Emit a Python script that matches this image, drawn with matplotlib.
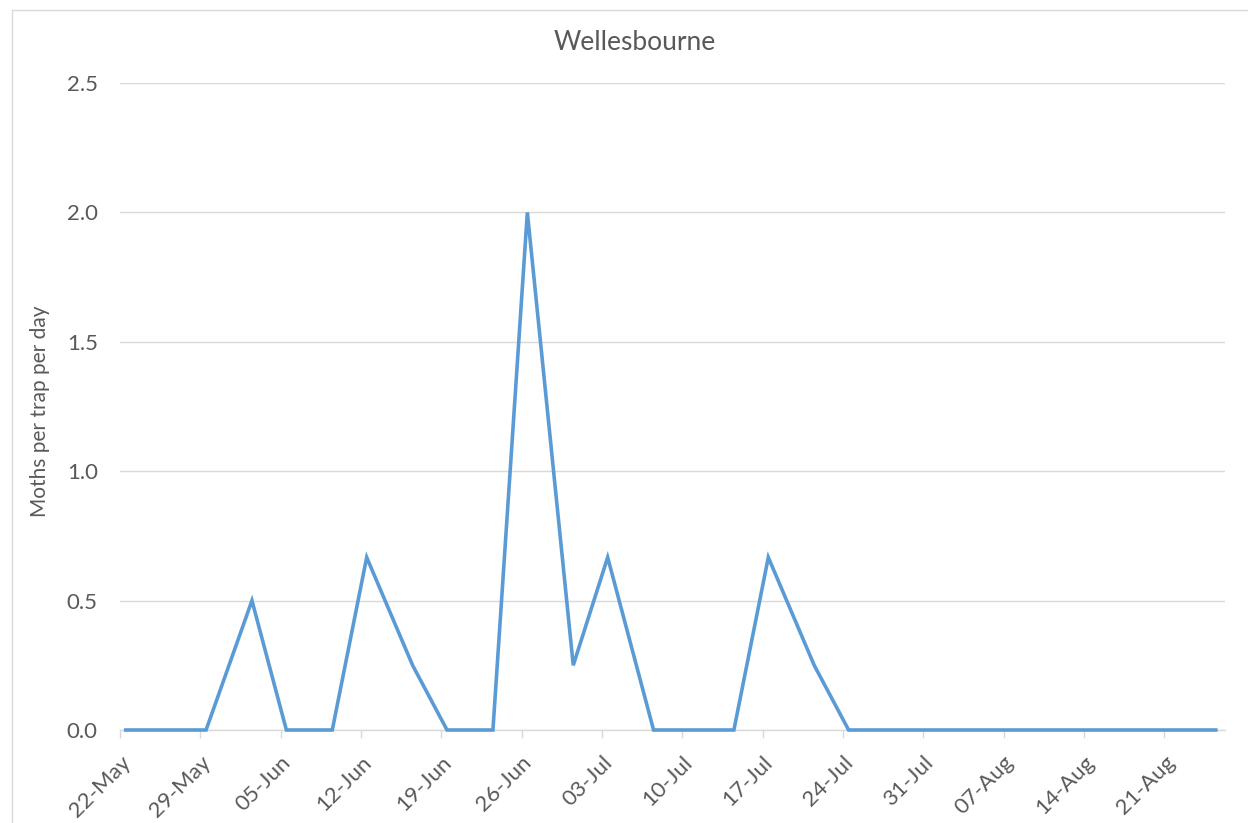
import matplotlib
matplotlib.use("Agg")
import matplotlib.pyplot as plt
import matplotlib.dates as mdates
from matplotlib.patches import Rectangle
import datetime as dt

plt.rcParams['font.family'] = ['Lato', 'DejaVu Sans']

dates = ["2017-05-22", "2017-05-25", "2017-05-29", "2017-06-02", "2017-06-05", "2017-06-09",
         "2017-06-12", "2017-06-16", "2017-06-19", "2017-06-23", "2017-06-26", "2017-06-30",
         "2017-07-03", "2017-07-07", "2017-07-10", "2017-07-14", "2017-07-17", "2017-07-21",
         "2017-07-24", "2017-07-28", "2017-07-31", "2017-08-04", "2017-08-07", "2017-08-11",
         "2017-08-14", "2017-08-18", "2017-08-21", "2017-08-25"]
moths = [0, 0, 0, 0.5, 0, 0,
         0.667, 0.25, 0, 0, 2.0, 0.25,
         0.667, 0, 0, 0, 0.667, 0.25,
         0, 0, 0, 0, 0, 0,
         0, 0, 0, 0]
tick_dates = ["2017-05-22", "2017-05-29", "2017-06-05", "2017-06-12", "2017-06-19",
              "2017-06-26", "2017-07-03", "2017-07-10", "2017-07-17", "2017-07-24",
              "2017-07-31", "2017-08-07", "2017-08-14", "2017-08-21"]
yticks = [0, 0.5, 1.0, 1.5, 2.0, 2.5]
title = "Wellesbourne"
ylabel = "Moths per trap per day"

# Excel date axis "between tick marks": each day occupies a slot, point in the middle
x = [mdates.date2num(dt.datetime.fromisoformat(d)) + 0.5 for d in dates]
ticks = [mdates.date2num(dt.datetime.fromisoformat(d)) for d in tick_dates]

fig = plt.figure(figsize=(12.48, 8.23), dpi=100)
ax = fig.add_axes([120/1248, 1-730/823, (1225-120)/1248, (730-83)/823])

grey = "#595959"
gridc = "#d9d9d9"

ax.plot(x, moths, color="#5b9bd5", lw=2.6, solid_joinstyle='miter', zorder=3, clip_on=False)

ax.set_xlim(ticks[0], mdates.date2num(dt.datetime(2017, 8, 26)) + 0.3)
ax.set_ylim(0, 2.5)
ax.set_yticks(yticks)
ax.set_yticklabels([f"{v:.1f}" for v in yticks])
ax.set_xticks(ticks)
ax.set_xticklabels([dt.datetime.fromisoformat(d).strftime("%d-%b") for d in tick_dates],
                   rotation=45, ha='right', va='top', rotation_mode='anchor')

ax.yaxis.grid(True, color=gridc, lw=1)
ax.set_axisbelow(True)
for s in ['top', 'right', 'left']:
    ax.spines[s].set_visible(False)
ax.spines['bottom'].set_color(gridc)
ax.spines['bottom'].set_linewidth(1)
ax.tick_params(axis='y', length=0, pad=16, labelsize=16, labelcolor=grey)
ax.tick_params(axis='x', length=6, width=1, color=gridc, pad=10, labelsize=16, labelcolor=grey)

fig.text(635/1248, 1-42/823, title, fontsize=19, color=grey, ha='center', va='center')
ax.set_ylabel(ylabel, fontsize=15, color=grey)
ax.yaxis.label.set_va('center')
ax.yaxis.set_label_coords(40/1248, 0.5, transform=fig.transFigure)

fig.patches.append(Rectangle((12/1248, -0.1), 1.2, (1-10/823)+0.1, transform=fig.transFigure,
                             fill=False, edgecolor=gridc, lw=1))

fig.savefig("out.png", dpi=100)
